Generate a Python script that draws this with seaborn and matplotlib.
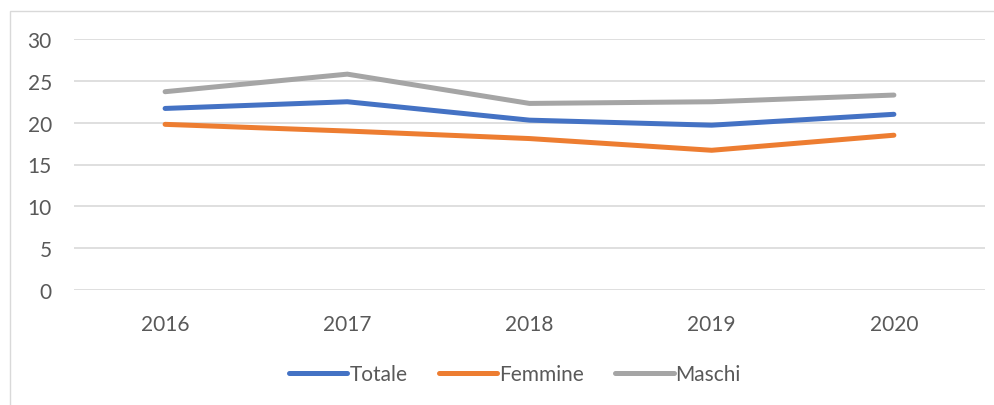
import matplotlib
matplotlib.use("Agg")
import matplotlib.pyplot as plt
import seaborn as sns
import pandas as pd
from matplotlib.patches import Rectangle
from matplotlib.lines import Line2D

years = ["2016", "2017", "2018", "2019", "2020"]
totale = [21.7, 22.5, 20.3, 19.7, 21.0]
femmine = [19.8, 19.0, 18.1, 16.7, 18.5]
maschi = [23.7, 25.8, 22.3, 22.5, 23.3]
series_names = ["Totale", "Femmine", "Maschi"]
colors = ["#4472C4", "#ED7D31", "#A5A5A5"]
yticks = [0, 5, 10, 15, 20, 25, 30]

df = pd.DataFrame({
    "Anno": years * 3,
    "Valore": totale + femmine + maschi,
    "Serie": [s for s in series_names for _ in years],
})
df["pos"] = df["Anno"].map({y: i for i, y in enumerate(years)})

sns.set_theme(style="white")
plt.rcParams["font.family"] = ["Lato", "DejaVu Sans"]
text_color = "#595959"
fs = 15

fig = plt.figure(figsize=(9.94, 4.06), dpi=100)
ax = fig.add_axes([74 / 994, 1 - 291 / 406, (985 - 74) / 994, 251 / 406])

sns.lineplot(data=df, x="pos", y="Valore", hue="Serie", hue_order=series_names,
             palette=colors, linewidth=3.6, ax=ax, legend=False,
             solid_capstyle="round", solid_joinstyle="miter")

ax.set_xlim(-0.5, len(years) - 0.5)
ax.set_ylim(0, 30)
ax.set_xticks(range(len(years)))
ax.set_xticklabels(years)
ax.set_yticks(yticks)
ax.set_xlabel("")
ax.set_ylabel("")
ax.yaxis.grid(True, color="#D9D9D9", linewidth=1.2)
ax.set_axisbelow(True)
for s in ax.spines.values():
    s.set_visible(False)
ax.tick_params(axis="both", length=0, labelsize=fs, labelcolor=text_color)
ax.tick_params(axis="x", pad=17)
ax.tick_params(axis="y", pad=16)

# chart area outline
fig.patches.append(Rectangle((10 / 994, -0.1), 1.2, 1 - 12 / 406 + 0.1,
                             transform=fig.transFigure, fill=False,
                             edgecolor="#D9D9D9", linewidth=1.0))

handles = [Line2D([0], [0], color=c, linewidth=3.6, solid_capstyle="round")
           for c in colors]
leg = fig.legend(handles, series_names, loc="center",
                 bbox_to_anchor=(515 / 994, 1 - 375 / 406), ncol=3,
                 frameon=False, fontsize=fs, handlelength=2.8,
                 handletextpad=0.1, columnspacing=1.5)
for t in leg.get_texts():
    t.set_color(text_color)

fig.savefig("out.png", dpi=100)
